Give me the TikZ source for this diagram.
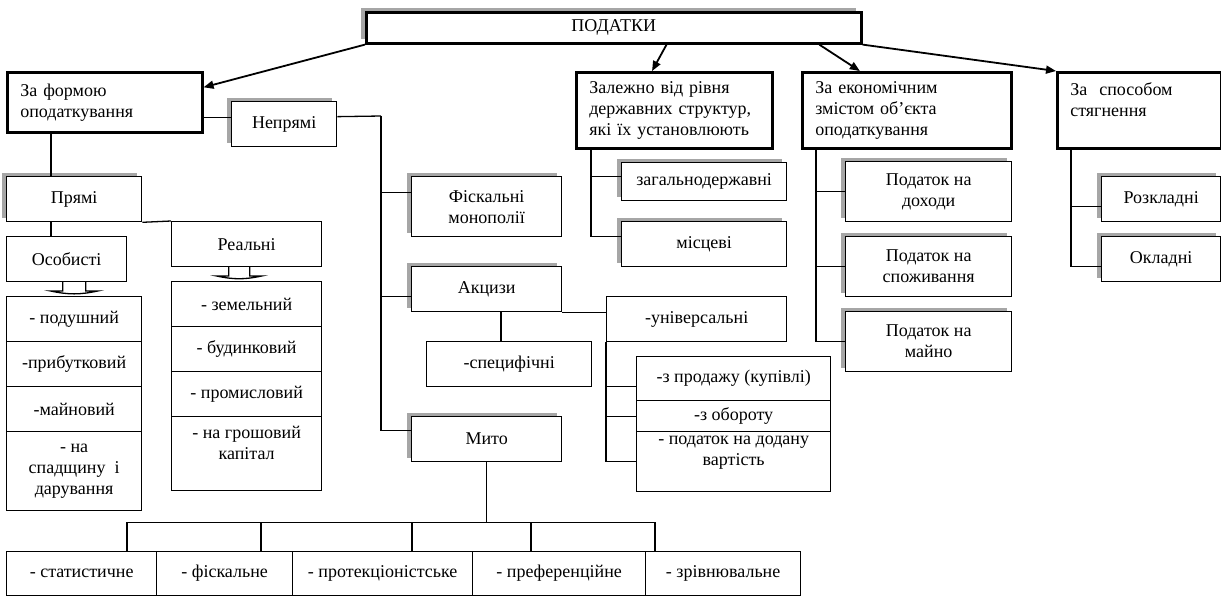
\documentclass[tikz,border=0pt]{standalone}
\usepackage{fontspec}
\setmainfont{Liberation Serif}
\newfontfamily\treefont{Liberation Serif}
\usetikzlibrary{calc, positioning, arrows.meta, shadows}

\begin{document}
\begin{tikzpicture}[x=0.5pt, y=-0.5pt,
  font=\treefont\fontsize{9}{10.5}\selectfont,
  box/.style={draw, fill=white, line width=0.65pt, inner sep=0pt, align=center, anchor=north west},
  wh/.style 2 args={minimum width=#1*0.5pt, minimum height=#2*0.5pt},
  head/.style={box, line width=1.3pt, align=left, inner xsep=6.5pt},
  shadowed/.style={drop shadow={shadow xshift=-2.5pt, shadow yshift=2pt, fill=black!35, opacity=1}},
  arr/.style={-{Triangle[length=5pt,width=4pt]}, line width=0.9pt},
  ln/.style={line width=0.65pt}]
  \useasboundingbox (0,0) rectangle (1221,596);

  % Top level
  \node[box, shadowed, line width=1.3pt, wh={495}{31}] (podatky) at (365,11) {ПОДАТКИ};
  \node[head, wh={195}{60}, text width=84.5pt] (forma) at (6,71) {За формою\\оподаткування};
  \node[head, wh={196}{76}, text width=85pt] (zalezhno) at (575,71) {Залежно від рівня\\державних структур,\\які їх установлюють};
  \node[head, wh={209}{76}, text width=91.5pt] (ekon) at (801,71) {За економічним\\змістом об’єкта\\оподаткування};
  \node[head, wh={164}{76}, text width=69pt] (sposib) at (1056,71) {За~~способом\\стягнення\\\mbox{}};

  \draw[arr] (podatky.south west) -- ([yshift=7.5pt]forma.east);
  \draw[arr] ($(podatky.south west)!0.606!(podatky.south east)$) -- ($(zalezhno.north west)!0.388!(zalezhno.north east)$);
  \draw[arr] ($(podatky.south west)!0.913!(podatky.south east)$) -- ($(ekon.north west)!0.278!(ekon.north east)$);
  \draw[arr] (podatky.south east) -- (sposib.north west);

  % Form of taxation
  \node[box, shadowed, wh={105}{45}] (nepriami) at (231,101) {Непрямі};
  \node[box, shadowed, wh={135}{45}] (priami) at (6,176) {Прямі};
  \node[box, wh={120}{45}] (osobysti) at (6,236) {Особисті};
  \node[box, wh={150}{45}] (realni) at (171,221) {Реальні};

  \node[box, wh={135}{45}] (o1) at (6,296) {- подушний};
  \node[box, wh={135}{45}] (o2) at (6,341) {-прибутковий};
  \node[box, wh={135}{45}] (o3) at (6,386) {-майновий};
  \node[box, wh={135}{79}] (o4) at (6,431) {- на\\спадщину~~і\\дарування};

  \node[box, wh={150}{45}] (r1) at (171,281) {- земельний};
  \node[box, wh={150}{45}] (r2) at (171,326) {- будинковий};
  \node[box, wh={150}{45}] (r3) at (171,371) {- промисловий};
  \node[box, wh={150}{74}] (r4) at (171,416) {- на грошовий\\капітал\\\mbox{}};

  \draw[ln] ([yshift=-7.5pt]forma.east) -- ([yshift=-7.5pt]forma.east -| nepriami.west);
  \draw[ln] ([xshift=22.5pt]forma.south west) -- ([xshift=22.5pt]priami.north west);
  \draw[ln] ([xshift=22.5pt]priami.south west) -- ([xshift=22.5pt]osobysti.north west);
  \draw[ln] (priami.south east) -- (realni.north west);

  % hollow arrows
  \draw[ln] (o1.north) ++(-11.5,-15) -- ++(0,10) -- ++(-12,0)
    to[out=-12, in=192] ++(47,0) -- ++(-12,0) -- ++(0,-10);
  \draw[ln] ([xshift=-3.75pt]r1.north) ++(-10.5,-15) -- ++(0,10) -- ++(-12,0)
    to[out=-12, in=192] ++(45,0) -- ++(-12,0) -- ++(0,-10);

  % Indirect taxes
  \node[box, shadowed, wh={150}{60}] (fiskmon) at (411,176) {Фіскальні\\монополії};
  \node[box, shadowed, wh={150}{45}] (akcyzy) at (411,266) {Акцизи};
  \node[box, shadowed, wh={150}{45}] (myto) at (411,416) {Мито};
  \node[box, wh={165}{45}] (specyf) at (426,341) {-специфічні};
  \node[box, wh={180}{45}] (univers) at (606,296) {-універсальні};
  \node[box, wh={194}{44}] (a1) at (636,356) {-з продажу (купівлі)};
  \node[box, wh={194}{31}] (a2) at (636,400) {-з обороту};
  \node[box, wh={194}{60}] (a3) at (636,431) {- податок на додану\\вартість\\\mbox{}};

  \coordinate (ntr) at (381,116);
  \draw[ln] ([yshift=3.75pt]nepriami.east) -- (ntr);
  \draw[ln] ([yshift=7pt]fiskmon.west) -| (ntr);
  \draw[ln] ([yshift=-3.75pt]akcyzy.west) -| (ntr);
  \draw[ln] ([yshift=4.25pt]myto.west) -| (ntr);

  \draw[ln] ([xshift=45pt]akcyzy.south west) -- ([xshift=37.5pt]specyf.north west);
  \draw[ln] (akcyzy.south east) -- (akcyzy.south east -| univers.west);
  \draw[ln] ([yshift=-4pt]a1.west) -| (univers.south west);
  \draw[ln] (a2.west) -| (univers.south west);
  \draw[ln] (a3.west) -| (univers.south west);

  % Customs duties
  \node[box, wh={150}{44}] (b1) at (6,551) {- статистичне};
  \node[box, wh={136}{44}] (b2) at (156,551) {- фіскальне};
  \node[box, wh={180}{44}] (b3) at (292,551) {- протекціоністське};
  \node[box, wh={173}{44}] (b4) at (472,551) {- преференційне};
  \node[box, wh={155}{44}] (b5) at (645,551) {- зрівнювальне};

  \draw[ln] (myto.south) -- ++(0,60) coordinate (mh);
  \draw[ln] ([xshift=60.5pt]b1.north west) |- (mh) -| ([xshift=5pt]b5.north west);
  \draw[ln] ([xshift=52.5pt]b2.north west) |- (mh);
  \draw[ln] ([xshift=60pt]b3.north west) |- (mh);
  \draw[ln] ([xshift=29.5pt]b4.north west) |- (mh);

  % Levels of government
  \node[box, shadowed, wh={165}{38}] (zahal) at (621,162) {загальнодержавні};
  \node[box, shadowed, wh={165}{45}] (mistsevi) at (621,221) {місцеві};
  \draw[ln] ([yshift=2.5pt]zahal.west) -| ([xshift=8pt]zalezhno.south west);
  \draw[ln] ([yshift=3.75pt]mistsevi.west) -| ([xshift=8pt]zalezhno.south west);

  % Economic content
  \node[box, shadowed, wh={166}{60}] (dokhody) at (845,161) {Податок на\\доходи};
  \node[box, shadowed, wh={166}{60}] (spozhyv) at (845,236) {Податок на\\споживання};
  \node[box, shadowed, wh={166}{60}] (maino) at (845,311) {Податок на\\майно};
  \draw[ln] (dokhody.west) -| ([xshift=7.5pt]ekon.south west);
  \draw[ln] (spozhyv.west) -| ([xshift=7.5pt]ekon.south west);
  \draw[ln] (maino.west) -| ([xshift=7.5pt]ekon.south west);

  % Method of collection
  \node[box, shadowed, wh={119}{45}] (rozkl) at (1101,176) {Розкладні};
  \node[box, shadowed, wh={119}{45}] (okl) at (1101,236) {Окладні};
  \draw[ln] ([yshift=-3.75pt]rozkl.west) -| ([xshift=7.5pt]sposib.south west);
  \draw[ln] ([yshift=-3.75pt]okl.west) -| ([xshift=7.5pt]sposib.south west);
\end{tikzpicture}
\end{document}
